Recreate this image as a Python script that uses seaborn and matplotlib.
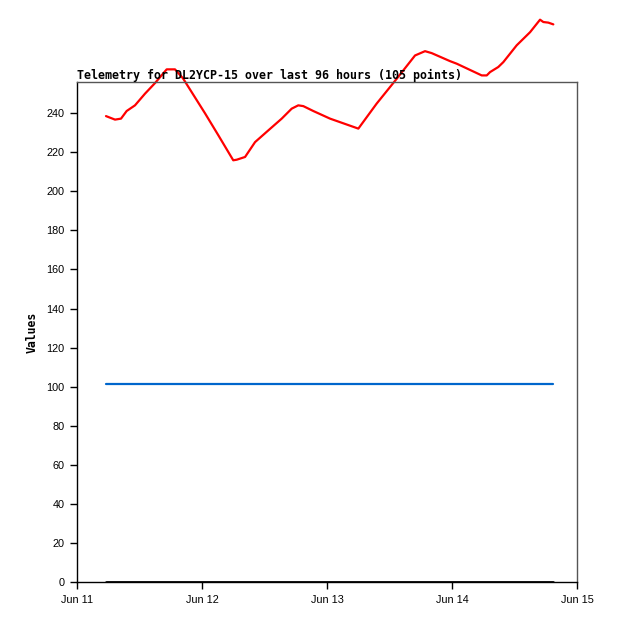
import pandas as pd
import matplotlib
matplotlib.use("Agg")
import matplotlib.pyplot as plt
import matplotlib.dates as mdates
import seaborn as sns

# Telemetry readings
red_times = [
    "2024-06-11 05:34", "2024-06-11 06:20", "2024-06-11 07:18", "2024-06-11 08:27",
    "2024-06-11 09:32", "2024-06-11 11:08", "2024-06-11 13:04", "2024-06-11 14:59",
    "2024-06-11 17:13", "2024-06-11 18:49", "2024-06-11 20:21", "2024-06-12 00:35",
    "2024-06-12 03:08", "2024-06-12 06:00", "2024-06-12 06:40", "2024-06-12 08:16",
    "2024-06-12 10:11", "2024-06-12 12:44", "2024-06-12 15:18", "2024-06-12 17:13",
    "2024-06-12 18:29", "2024-06-12 19:27", "2024-06-12 21:22", "2024-06-13 00:35",
    "2024-06-13 06:01", "2024-06-13 09:32", "2024-06-13 13:23", "2024-06-13 16:54",
    "2024-06-13 18:49", "2024-06-13 20:06", "2024-06-13 23:37", "2024-06-14 00:54",
    "2024-06-14 05:42", "2024-06-14 06:40", "2024-06-14 07:18", "2024-06-14 08:53",
    "2024-06-14 09:51", "2024-06-14 12:25", "2024-06-14 14:59", "2024-06-14 16:54",
    "2024-06-14 17:32", "2024-06-14 18:29", "2024-06-14 19:27",
]
red_values = [
    238.4, 237.6, 236.6, 237.1, 241.0, 243.9, 249.9, 255.3, 262.3, 262.3,
    257.7, 239.8, 228.6, 215.8, 216.1, 217.5, 225.1, 231.1, 237.1, 242.2,
    243.9, 243.5, 241.0, 237.1, 232.0, 244.8, 257.5, 269.4, 271.6, 270.6,
    266.5, 265.2, 259.2, 259.2, 260.9, 263.5, 266.0, 274.6, 281.3, 287.7,
    286.5, 286.2, 285.3,
]

flat_times = ["2024-06-11 05:34", "2024-06-14 19:27"]
blue_values = [101.3, 101.3]
black_values = [0.2, 0.2]

title = "Telemetry for DL2YCP-15 over last 96 hours (105 points)"

red = pd.DataFrame({"time": pd.to_datetime(red_times), "value": red_values})
blue = pd.DataFrame({"time": pd.to_datetime(flat_times), "value": blue_values})
black = pd.DataFrame({"time": pd.to_datetime(flat_times), "value": black_values})

sns.set_style("white")
plt.rcParams["text.color"] = "black"
plt.rcParams["axes.labelcolor"] = "black"
plt.rcParams["xtick.color"] = "black"
plt.rcParams["ytick.color"] = "black"
mono = "DejaVu Sans Mono"

fig = plt.figure(figsize=(6.18, 6.23), dpi=100)
ax = fig.add_axes([0.1246, 0.0653, 0.8091, 0.8036])

sns.lineplot(data=black, x="time", y="value", ax=ax, color="black", linewidth=2.0)
sns.lineplot(data=blue, x="time", y="value", ax=ax, color="#0066cc", linewidth=1.6)
sns.lineplot(data=red, x="time", y="value", ax=ax, color="#ff0000",
             linewidth=1.6, clip_on=False)

ax.set_xlim(pd.Timestamp("2024-06-11"), pd.Timestamp("2024-06-15"))
ax.set_ylim(0, 256)
ax.set_yticks(range(0, 241, 20))
ax.xaxis.set_major_locator(mdates.DayLocator())
ax.xaxis.set_major_formatter(mdates.DateFormatter("%b %d"))

ax.tick_params(axis="both", direction="out", length=5, width=1, color="black",
               labelcolor="black", labelsize=7.8, pad=4, left=True, bottom=True)
for lab in ax.get_xticklabels() + ax.get_yticklabels():
    lab.set_fontfamily("Liberation Sans")

ax.set_xlabel("")
ax.set_ylabel("Values", fontfamily=mono, fontweight="bold", fontsize=8.3,
              color="black")
ax.yaxis.set_label_coords(-0.076, 0.5)

ax.set_title(title, loc="left", fontfamily=mono, fontweight="bold",
             fontsize=8.35, pad=2, color="black")

for side in ["left", "bottom"]:
    ax.spines[side].set_color("black")
for side in ["top", "right"]:
    ax.spines[side].set_color("#555555")
for sp in ax.spines.values():
    sp.set_linewidth(1.0)

fig.savefig("out.png", dpi=100)
